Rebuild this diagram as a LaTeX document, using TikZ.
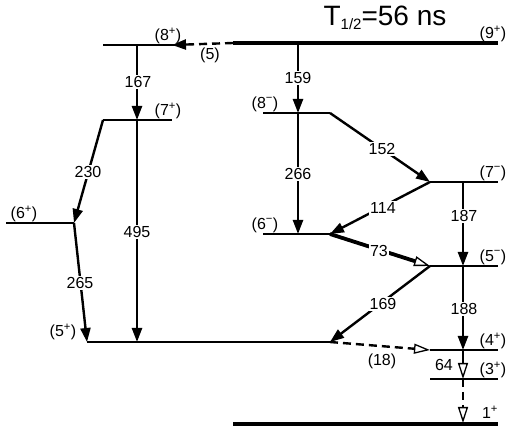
\documentclass[tikz,border=0pt]{standalone}
\usepackage{fontspec}
\setmainfont{Liberation Sans}
\usetikzlibrary{arrows.meta}

\begin{document}
\begin{tikzpicture}[x=1pt, y=-1pt, every node/.style={font=\fontsize{16}{18}\selectfont, inner sep=1pt},
    lev/.style={line width=2pt},
    gs/.style={line width=4.5pt},
    tr/.style={line width=2.4pt, -{Triangle[length=14pt,width=10pt]}},
    otr/.style={line width=2.4pt, -{Triangle[open,length=16pt,width=10pt,fill=white,line width=1.3pt]}},
    dsh/.style={dash pattern=on 8pt off 5pt},
    gl/.style={fill=white}]
  \useasboundingbox (0,0) rectangle (507,433);
  % levels
  \coordinate (g9L) at (233,43);   \coordinate (g9R) at (498,43);
  \coordinate (p8L) at (103,45);   \coordinate (p8R) at (182,45);
  \coordinate (p7L) at (103,120);  \coordinate (p7R) at (172,120);
  \coordinate (p6L) at (6,223);    \coordinate (p6R) at (74,223);
  \coordinate (p5L) at (87,342);   \coordinate (p5R) at (330,342);
  \coordinate (m8L) at (263,113);  \coordinate (m8R) at (330,113);
  \coordinate (m7L) at (430,182);  \coordinate (m7R) at (498,182);
  \coordinate (m6L) at (263,234);  \coordinate (m6R) at (330,234);
  \coordinate (m5L) at (430,266);  \coordinate (m5R) at (498,266);
  \coordinate (p4L) at (430,350);  \coordinate (p4R) at (498,350);
  \coordinate (p3L) at (430,379);  \coordinate (p3R) at (498,379);
  \coordinate (g1L) at (233,424);  \coordinate (g1R) at (498,424);
  \draw[gs] (g9L) -- (g9R);
  \draw[lev] (p8L) -- (p8R);
  \draw[lev] (p7L) -- (p7R);
  \draw[lev] (p6L) -- (p6R);
  \draw[lev] (p5L) -- (p5R);
  \draw[lev] (m8L) -- (m8R);
  \draw[lev] (m7L) -- (m7R);
  \draw[lev] (m6L) -- (m6R);
  \draw[lev] (m5L) -- (m5R);
  \draw[lev] (p4L) -- (p4R);
  \draw[lev] (p3L) -- (p3R);
  \draw[gs] (g1L) -- (g1R);
  \node (title) at (385,18) {\fontsize{28}{30}\selectfont T\raisebox{-0.3ex}{\fontsize{15}{15}\selectfont 1/2}=56 ns};
  % spin labels
  \node (s9) at (493,34) {(9\textsuperscript{+})};
  \node (s8p) at (168,36) {(8\textsuperscript{+})};
  \node (s7p) at (168,111) {(7\textsuperscript{+})};
  \node (s6p) at (24,214) {(6\textsuperscript{+})};
  \node (s5p) at (63,332) {(5\textsuperscript{+})};
  \node (s8m) at (265,104) {(8\textsuperscript{−})};
  \node (s7m) at (493,173) {(7\textsuperscript{−})};
  \node (s6m) at (265,225) {(6\textsuperscript{−})};
  \node (s5m) at (493,257) {(5\textsuperscript{−})};
  \node (s4p) at (493,341) {(4\textsuperscript{+})};
  \node (s3p) at (493,370) {(3\textsuperscript{+})};
  \node (s1p) at (490,412) {1\textsuperscript{+}};
  % transitions
  \coordinate (a5) at (172,45);
  \draw[tr, dsh] (g9L) -- (a5);
  \node (e5) at (210,55) {(5)};
  \draw[tr] (137,45) -- (137,120);
  \node[gl] (e167) at (138,82) {167};
  \draw[tr] (137,120) -- (137,342);
  \node[gl] (e495) at (137,232) {495};
  \draw[tr] (p7L) -- (p6R);
  \node[gl] (e230) at (88,172) {230};
  \draw[tr] (p6R) -- (p5L);
  \node[gl] (e265) at (80,283) {265};
  \draw[tr] (298,43) -- (298,113);
  \node[gl] (e159) at (298,78) {159};
  \draw[tr] (298,113) -- (298,234);
  \node[gl] (e266) at (298,174) {266};
  \draw[tr] (m8R) -- (m7L);
  \node[gl] (e152) at (382,149) {152};
  \draw[tr] (m7L) -- (m6R);
  \node[gl] (e114) at (383,208) {114};
  \draw[otr, line width=3.8pt] (m6R) -- (m5L);
  \node[gl] (e73) at (379,251) {73};
  \draw[tr] (463,182) -- (463,266);
  \node[gl] (e187) at (464,216) {187};
  \draw[tr] (m5L) -- (p5R);
  \node[gl] (e169) at (383,304) {169};
  \draw[tr] (463,266) -- (463,350);
  \node[gl] (e188) at (464,309) {188};
  \draw[otr, dsh] (p5R) -- (p4L);
  \node (e18) at (382,361) {(18)};
  \draw[otr] (463,350) -- (463,379);
  \node (e64) at (444,365) {64};
  \draw[otr, dsh] (463,379) -- (463,423);
\end{tikzpicture}
\end{document}
